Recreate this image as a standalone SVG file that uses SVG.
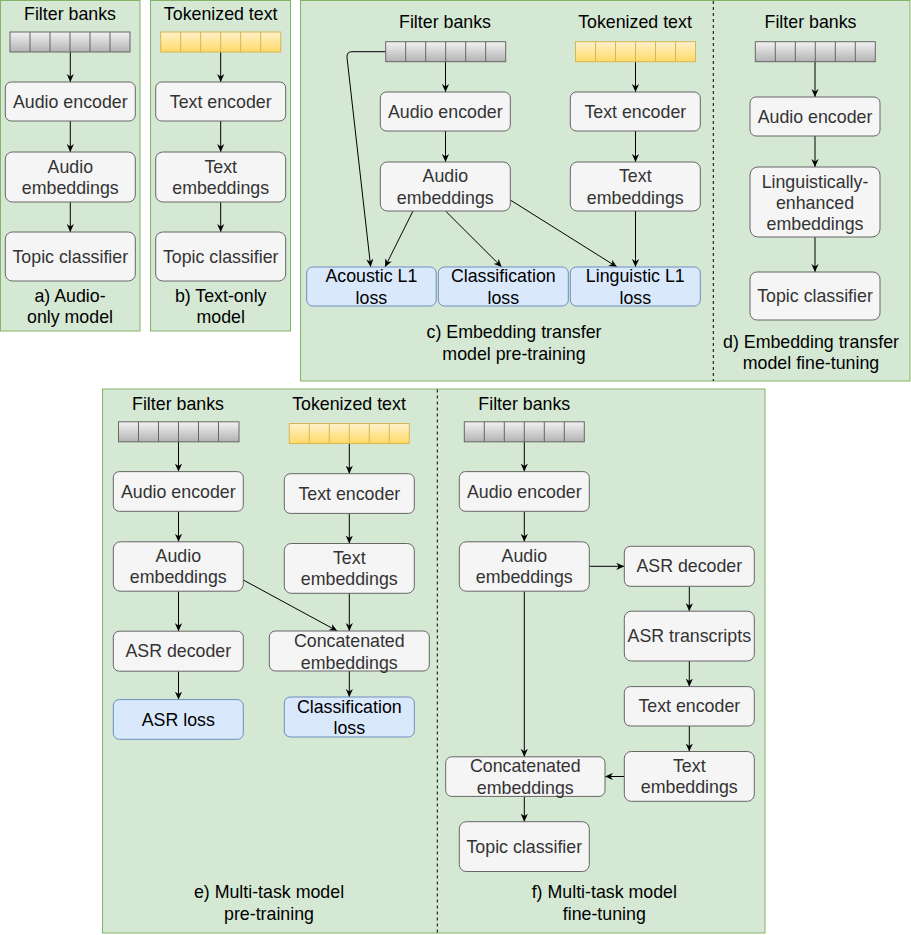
<svg xmlns="http://www.w3.org/2000/svg" width="911" height="935" viewBox="0 0 911 935">
<defs>
<linearGradient id="gGray" x1="0" y1="0" x2="0" y2="1"><stop offset="0" stop-color="#f2f2f2"/><stop offset="1" stop-color="#b3b3b3"/></linearGradient>
<linearGradient id="gYel" x1="0" y1="0" x2="0" y2="1"><stop offset="0" stop-color="#fff2cc"/><stop offset="1" stop-color="#ffd966"/></linearGradient>
<marker id="arr" viewBox="0 0 10 10" refX="10" refY="5" markerWidth="8" markerHeight="8" orient="auto" markerUnits="userSpaceOnUse"><path d="M0,0.5 L10,5 L0,9.5 L3,5 z" fill="#000"/></marker>
<style>
.panel{fill:#d5e8d4;stroke:#82b366;stroke-width:1}
.div{stroke:#000;stroke-width:1;stroke-dasharray:3 3;fill:none}
.box{fill:#f5f5f5;stroke:#666666;stroke-width:1}
.loss{fill:#dae8fc;stroke:#6c8ebf;stroke-width:1}
.fb{fill:url(#gGray);stroke:#666666;stroke-width:1}
.fbl{stroke:#666666;stroke-width:1}
.tk{fill:url(#gYel);stroke:#d6b656;stroke-width:1}
.tkl{stroke:#d6b656;stroke-width:1}
text{font-family:"Liberation Sans",Arial,Helvetica,sans-serif;font-size:17.8px;text-anchor:middle;fill:#000}
text.b{fill:#333333}
.edge{stroke:#000;stroke-width:1;fill:none;marker-end:url(#arr)}
</style>
</defs>

<!-- panels -->
<g id="panel-a"><rect class="panel" x="0.5" y="0.5" width="139.5" height="330.5"/></g>
<g id="panel-b"><rect class="panel" x="150.5" y="0.5" width="140" height="330.5"/></g>
<g id="panel-cd"><rect class="panel" x="300.5" y="0.5" width="609.5" height="380.5"/><line class="div" x1="713.3" y1="1" x2="713.3" y2="381"/></g>
<g id="panel-ef"><rect class="panel" x="102.5" y="389" width="662.5" height="544"/><line class="div" x1="437.3" y1="389.5" x2="437.3" y2="932.5"/></g>

<!-- connectors -->
<g id="connectors">
<path class="edge" d="M70.3,52 V82"/>
<path class="edge" d="M70.3,121 V152"/>
<path class="edge" d="M70.3,202 V232"/>
<path class="edge" d="M220.7,52 V82"/>
<path class="edge" d="M220.7,121 V152"/>
<path class="edge" d="M220.7,202 V232"/>

<path class="edge" d="M445.5,62 V92"/>
<path class="edge" d="M445.5,131 V162"/>
<path class="edge" d="M635.5,62 V92"/>
<path class="edge" d="M635.5,131 V162"/>
<path class="edge" d="M635.5,211 V267"/>
<path class="edge" d="M386,51.7 H352 Q346.6,51.7 347,57.5 L370.7,267"/>
<path class="edge" d="M413,211 L385,267"/>
<path class="edge" d="M445.5,211 L501.7,267"/>
<path class="edge" d="M510.3,200 L617,267"/>

<path class="edge" d="M815,62 V97"/>
<path class="edge" d="M815,136 V167"/>
<path class="edge" d="M815,237 V272"/>

<path class="edge" d="M178.5,442 V471.6"/>
<path class="edge" d="M178.5,511.3 V541.8"/>
<path class="edge" d="M178.5,591.2 V631.2"/>
<path class="edge" d="M178.5,671.2 V699.6"/>
<path class="edge" d="M349.3,443.5 V473.7"/>
<path class="edge" d="M349.3,513.4 V543.5"/>
<path class="edge" d="M349.3,593.3 V631"/>
<path class="edge" d="M349.3,671 V697"/>
<path class="edge" d="M243.3,580 L337.3,631"/>

<path class="edge" d="M524.3,442 V471.6"/>
<path class="edge" d="M524.3,511.3 V541.8"/>
<path class="edge" d="M589.3,566.3 H624.3"/>
<path class="edge" d="M689.3,586.3 V611.2"/>
<path class="edge" d="M689.3,661 V686.6"/>
<path class="edge" d="M689.3,726 V751.5"/>
<path class="edge" d="M624.3,776.5 H605"/>
<path class="edge" d="M524.3,591.2 V756.8"/>
<path class="edge" d="M524.3,796.4 V821.7"/>
</g>

<!-- panel a nodes -->
<g id="a-title"><text x="70" y="20">Filter banks</text></g>
<g id="a-filterbank"><rect class="fb" x="10" y="32" width="120" height="20"/><path class="fbl" d="M30,32V52M50,32V52M70,32V52M90,32V52M110,32V52"/></g>
<g id="a-audio-encoder"><rect class="box" x="5.3" y="82" width="130" height="39" rx="6"/><text class="b" x="70.3" y="107.5">Audio encoder</text></g>
<g id="a-audio-emb"><rect class="box" x="5.3" y="152" width="130" height="50" rx="7"/><text class="b" x="70.3" y="172.7">Audio</text><text class="b" x="70.3" y="194.3">embeddings</text></g>
<g id="a-topic"><rect class="box" x="5.3" y="232" width="130" height="49" rx="7"/><text class="b" x="70.3" y="262.7">Topic classifier</text></g>
<g id="a-caption"><text x="70" y="301.5">a) Audio-</text><text x="70" y="323">only model</text></g>

<!-- panel b nodes -->
<g id="b-title"><text x="220.7" y="20">Tokenized text</text></g>
<g id="b-tokens"><rect class="tk" x="160.7" y="32" width="120" height="20"/><path class="tkl" d="M180.7,32V52M200.7,32V52M220.7,32V52M240.7,32V52M260.7,32V52"/></g>
<g id="b-text-encoder"><rect class="box" x="155.7" y="82" width="130" height="39" rx="6"/><text class="b" x="220.7" y="107.5">Text encoder</text></g>
<g id="b-text-emb"><rect class="box" x="155.7" y="152" width="130" height="50" rx="7"/><text class="b" x="220.7" y="172.7">Text</text><text class="b" x="220.7" y="194.3">embeddings</text></g>
<g id="b-topic"><rect class="box" x="155.7" y="232" width="130" height="49" rx="7"/><text class="b" x="220.7" y="262.7">Topic classifier</text></g>
<g id="b-caption"><text x="220.7" y="301.5">b) Text-only</text><text x="220.7" y="323">model</text></g>

<!-- panel c nodes -->
<g id="c-title-fb"><text x="445" y="28">Filter banks</text></g>
<g id="c-filterbank"><rect class="fb" x="385.7" y="41.7" width="120" height="20"/><path class="fbl" d="M405.7,41.7V61.7M425.7,41.7V61.7M445.7,41.7V61.7M465.7,41.7V61.7M485.7,41.7V61.7"/></g>
<g id="c-title-tk"><text x="635" y="28">Tokenized text</text></g>
<g id="c-tokens"><rect class="tk" x="575.5" y="41.7" width="120" height="20"/><path class="tkl" d="M595.5,41.7V61.7M615.5,41.7V61.7M635.5,41.7V61.7M655.5,41.7V61.7M675.5,41.7V61.7"/></g>
<g id="c-audio-encoder"><rect class="box" x="380.3" y="92" width="130" height="39" rx="6"/><text class="b" x="445.3" y="117.5">Audio encoder</text></g>
<g id="c-text-encoder"><rect class="box" x="570.3" y="92" width="130" height="39" rx="6"/><text class="b" x="635.3" y="117.5">Text encoder</text></g>
<g id="c-audio-emb"><rect class="box" x="380.3" y="162" width="130" height="49" rx="7"/><text class="b" x="445.3" y="182">Audio</text><text class="b" x="445.3" y="203.6">embeddings</text></g>
<g id="c-text-emb"><rect class="box" x="570.3" y="162" width="130" height="49" rx="7"/><text class="b" x="635.3" y="182">Text</text><text class="b" x="635.3" y="203.6">embeddings</text></g>
<g id="c-acoustic-loss"><rect class="loss" x="306.7" y="267" width="129.5" height="39" rx="6"/><text x="371.4" y="282">Acoustic L1</text><text x="371.4" y="303.6">loss</text></g>
<g id="c-class-loss"><rect class="loss" x="438.3" y="267" width="130" height="39" rx="6"/><text x="503.3" y="282">Classification</text><text x="503.3" y="303.6">loss</text></g>
<g id="c-ling-loss"><rect class="loss" x="570.3" y="267" width="130" height="39" rx="6"/><text x="635.3" y="282">Linguistic L1</text><text x="635.3" y="303.6">loss</text></g>
<g id="c-caption"><text x="514" y="338">c) Embedding transfer</text><text x="514" y="359.7">model pre-training</text></g>

<!-- panel d nodes -->
<g id="d-title"><text x="810.5" y="28">Filter banks</text></g>
<g id="d-filterbank"><rect class="fb" x="755.3" y="41.7" width="120" height="20"/><path class="fbl" d="M775.3,41.7V61.7M795.3,41.7V61.7M815.3,41.7V61.7M835.3,41.7V61.7M855.3,41.7V61.7"/></g>
<g id="d-audio-encoder"><rect class="box" x="750" y="97" width="130" height="39" rx="6"/><text class="b" x="815" y="122.5">Audio encoder</text></g>
<g id="d-ling-emb"><rect class="box" x="750" y="167" width="130" height="70" rx="8"/><text class="b" x="815" y="187.5">Linguistically-</text><text class="b" x="815" y="208.5">enhanced</text><text class="b" x="815" y="229.5">embeddings</text></g>
<g id="d-topic"><rect class="box" x="750" y="272" width="130" height="48" rx="7"/><text class="b" x="815" y="302">Topic classifier</text></g>
<g id="d-caption"><text x="811" y="348">d) Embedding transfer</text><text x="811" y="368.5">model fine-tuning</text></g>

<!-- panel e nodes -->
<g id="e-title-fb"><text x="178" y="409.5">Filter banks</text></g>
<g id="e-filterbank"><rect class="fb" x="118.5" y="421.8" width="120.5" height="20"/><path class="fbl" d="M138.5,421.8V441.8M158.5,421.8V441.8M178.5,421.8V441.8M198.5,421.8V441.8M218.5,421.8V441.8"/></g>
<g id="e-title-tk"><text x="349" y="409.5">Tokenized text</text></g>
<g id="e-tokens"><rect class="tk" x="289.3" y="423.5" width="120" height="20"/><path class="tkl" d="M309.3,423.5V443.5M329.3,423.5V443.5M349.3,423.5V443.5M369.3,423.5V443.5M389.3,423.5V443.5"/></g>
<g id="e-audio-encoder"><rect class="box" x="113.3" y="471.6" width="130" height="39.7" rx="6"/><text class="b" x="178.3" y="497.5">Audio encoder</text></g>
<g id="e-text-encoder"><rect class="box" x="284.3" y="473.7" width="130" height="39.7" rx="6"/><text class="b" x="349.3" y="499.5">Text encoder</text></g>
<g id="e-audio-emb"><rect class="box" x="113.3" y="541.8" width="130" height="49.4" rx="7"/><text class="b" x="178.3" y="561.8">Audio</text><text class="b" x="178.3" y="583.4">embeddings</text></g>
<g id="e-text-emb"><rect class="box" x="284.3" y="543.5" width="130" height="49.8" rx="7"/><text class="b" x="349.3" y="563.6">Text</text><text class="b" x="349.3" y="585.2">embeddings</text></g>
<g id="e-asr-decoder"><rect class="box" x="113.3" y="631.2" width="130" height="40" rx="6"/><text class="b" x="178.3" y="657.2">ASR decoder</text></g>
<g id="e-concat"><rect class="box" x="269.3" y="631" width="160" height="40" rx="6"/><text class="b" x="349.3" y="647">Concatenated</text><text class="b" x="349.3" y="668.6">embeddings</text></g>
<g id="e-asr-loss"><rect class="loss" x="113.3" y="699.6" width="130" height="39.7" rx="6"/><text x="178.3" y="725.5">ASR loss</text></g>
<g id="e-class-loss"><rect class="loss" x="284.3" y="697" width="130" height="40" rx="6"/><text x="349.3" y="712.5">Classification</text><text x="349.3" y="734">loss</text></g>
<g id="e-caption"><text x="269" y="898">e) Multi-task model</text><text x="269" y="920">pre-training</text></g>

<!-- panel f nodes -->
<g id="f-title"><text x="524.3" y="409.5">Filter banks</text></g>
<g id="f-filterbank"><rect class="fb" x="464.3" y="421.8" width="120" height="20"/><path class="fbl" d="M484.3,421.8V441.8M504.3,421.8V441.8M524.3,421.8V441.8M544.3,421.8V441.8M564.3,421.8V441.8"/></g>
<g id="f-audio-encoder"><rect class="box" x="459.3" y="471.6" width="130" height="39.7" rx="6"/><text class="b" x="524.3" y="497.5">Audio encoder</text></g>
<g id="f-audio-emb"><rect class="box" x="459.3" y="541.8" width="130" height="49.4" rx="7"/><text class="b" x="524.3" y="561.8">Audio</text><text class="b" x="524.3" y="583.4">embeddings</text></g>
<g id="f-asr-decoder"><rect class="box" x="624.3" y="546.3" width="130" height="40" rx="6"/><text class="b" x="689.3" y="572.3">ASR decoder</text></g>
<g id="f-asr-transcripts"><rect class="box" x="624.3" y="611.2" width="130" height="49.8" rx="7"/><text class="b" x="689.3" y="642.2">ASR transcripts</text></g>
<g id="f-text-encoder"><rect class="box" x="624.3" y="686.6" width="130" height="39.4" rx="6"/><text class="b" x="689.3" y="712.3">Text encoder</text></g>
<g id="f-text-emb"><rect class="box" x="624.3" y="751.5" width="130" height="49.8" rx="7"/><text class="b" x="689.3" y="771.6">Text</text><text class="b" x="689.3" y="793.2">embeddings</text></g>
<g id="f-concat"><rect class="box" x="445.7" y="756.8" width="159.3" height="39.6" rx="6"/><text class="b" x="525.3" y="772">Concatenated</text><text class="b" x="525.3" y="793.6">embeddings</text></g>
<g id="f-topic"><rect class="box" x="459.3" y="821.7" width="130" height="49.8" rx="7"/><text class="b" x="524.3" y="852.6">Topic classifier</text></g>
<g id="f-caption"><text x="604.3" y="898">f) Multi-task model</text><text x="604.3" y="920">fine-tuning</text></g>
</svg>
